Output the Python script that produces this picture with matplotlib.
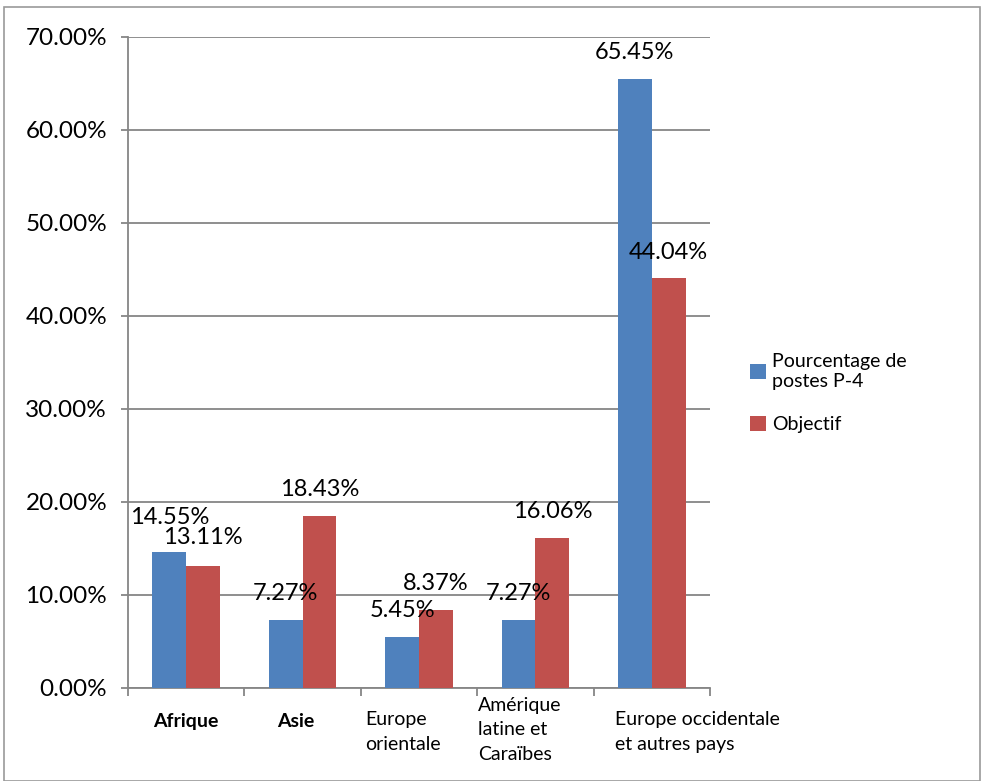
import matplotlib
matplotlib.use("Agg")
import matplotlib.pyplot as plt
from matplotlib.patches import Rectangle
import numpy as np

categories = ["Afrique", "Asie", "Europe\norientale", "Amérique\nlatine et\nCaraïbes", "Europe occidentale\net autres pays"]
series_names = ["Pourcentage de\npostes P-4", "Objectif"]
pct_p4 = [14.55, 7.27, 5.45, 7.27, 65.45]
objectif = [13.11, 18.43, 8.37, 16.06, 44.04]
yticks = [0, 10, 20, 30, 40, 50, 60, 70]

FONT = "Lato"
BLUE = "#4F81BD"
RED = "#C0504D"
GRID = "#868686"

fig = plt.figure(figsize=(9.81, 7.81), dpi=100)
ax = fig.add_axes([128 / 981, 1 - 687.7 / 781, 582 / 981, 651 / 781])

x = np.arange(len(categories)) + 0.5
w = 0.29
b1 = ax.bar(x - w / 2, pct_p4, w, color=BLUE, label=series_names[0], zorder=3)
b2 = ax.bar(x + w / 2, objectif, w, color=RED, label=series_names[1], zorder=3)

ax.set_xlim(0, 5)
ax.set_ylim(0, 70)
ax.set_yticks(yticks)
ax.set_yticklabels([f"{v:.2f}%" for v in yticks], fontsize=17.5, family=FONT)
ax.yaxis.grid(True, color=GRID, linewidth=1.3, zorder=0)
ax.set_axisbelow(True)
for s in ["top", "right"]:
    ax.spines[s].set_visible(False)
for s in ["left", "bottom"]:
    ax.spines[s].set_color(GRID)
    ax.spines[s].set_linewidth(1.3)
ax.tick_params(axis="y", length=5, color=GRID, width=1.3, pad=10)
ax.set_xticks(np.arange(0, 6))
ax.set_xticklabels([])
ax.tick_params(axis="x", length=6, color=GRID, width=1.3, direction="out")

# value labels centred on bars, dy in points above bar top
dy1 = [25, 19.5, 19, 19.5, 19]
dy2 = [20, 19, 19, 19, 18.5]
for i in range(len(categories)):
    ax.annotate(f"{pct_p4[i]:.2f}%", (x[i] - w / 2, pct_p4[i]),
                xytext=(0, dy1[i]), textcoords="offset points",
                ha="center", va="center", fontsize=17, family=FONT)
    ax.annotate(f"{objectif[i]:.2f}%", (x[i] + w / 2, objectif[i]),
                xytext=(0, dy2[i]), textcoords="offset points",
                ha="center", va="center", fontsize=17, family=FONT)

# category labels (left edge in data units, top offset in points)
lab_x = [0.22, 0.285, 0.04, 0.01, 0.18]
lab_y = [-18, -18, -17, -6.5, -17]
weights = ["bold", "bold", "normal", "normal", "normal"]
for i, c in enumerate(categories):
    ax.annotate(c, (i + lab_x[i], 0), xytext=(0, lab_y[i]), textcoords="offset points",
                ha="left", va="top", fontsize=14, family=FONT, linespacing=1.55,
                fontweight=weights[i], annotation_clip=False)

fig.legend(handles=[b1, b2], labels=series_names, loc="upper left",
           bbox_to_anchor=(0.757, 0.558), frameon=False, borderaxespad=0,
           prop={"family": FONT, "size": 14}, handlelength=0.78, handleheight=0.78,
           handletextpad=0.35, labelspacing=1.35)

fig.patches.append(Rectangle((0.004, 0.0), 0.995, 0.991, transform=fig.transFigure,
                             fill=False, edgecolor="#9a9a9a", linewidth=1.2))

fig.savefig("out.png", dpi=100)
